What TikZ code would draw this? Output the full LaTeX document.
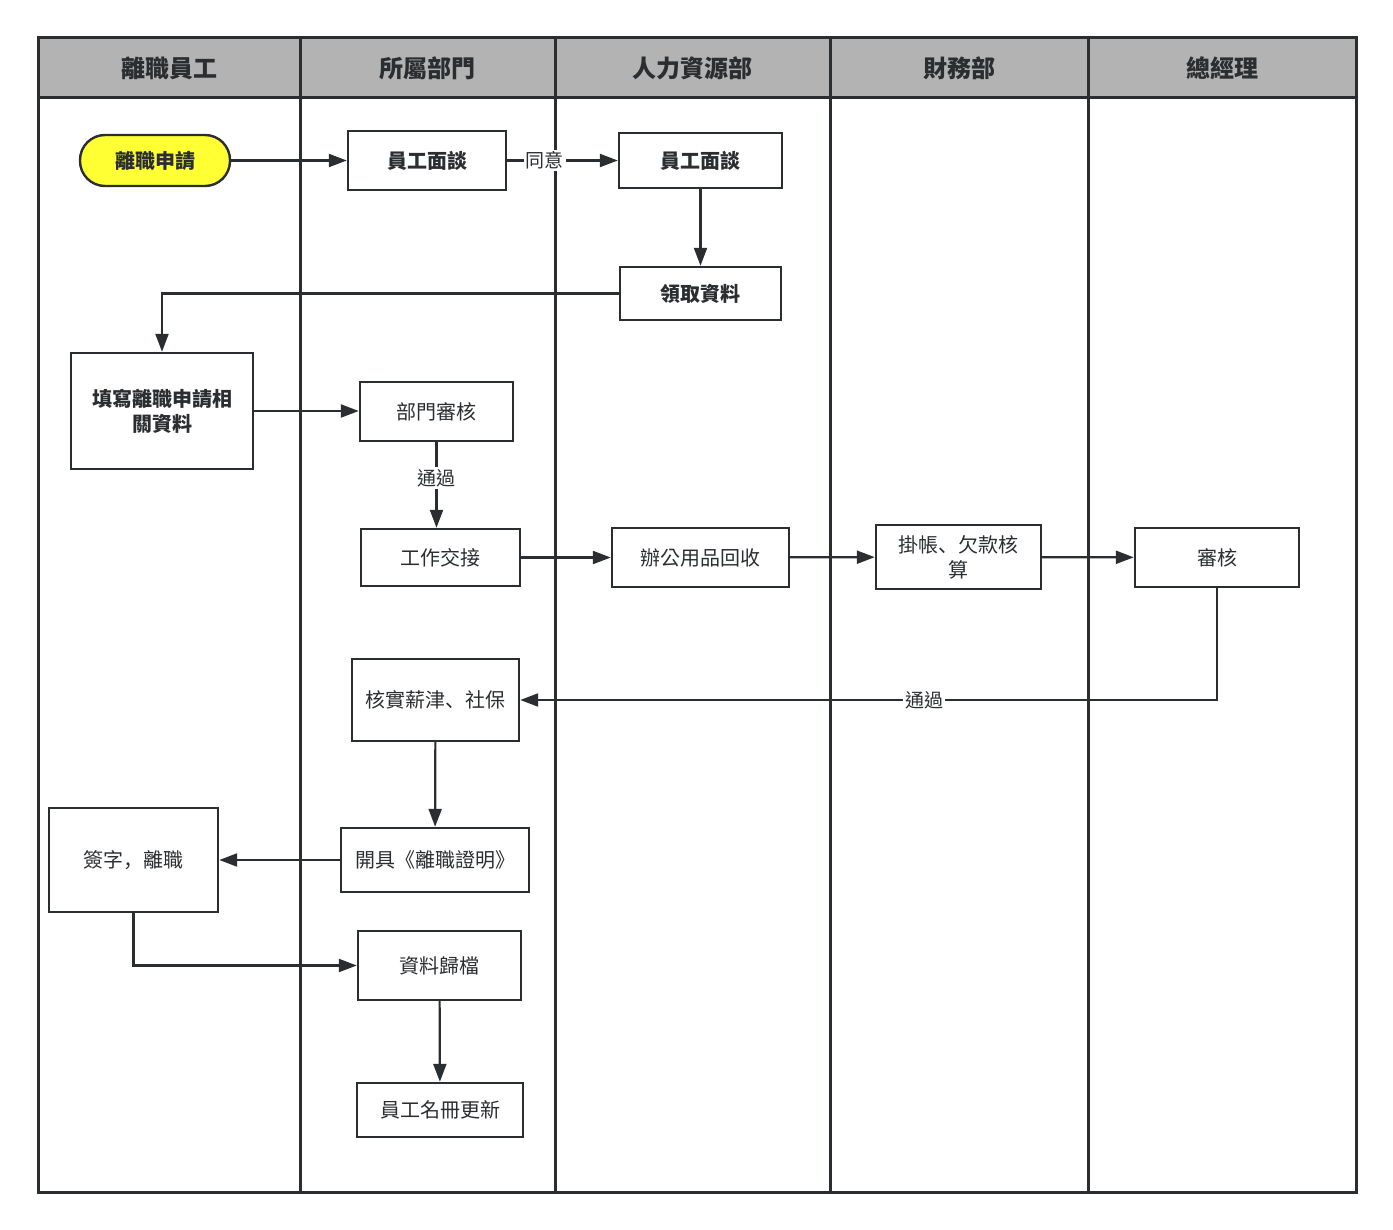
\documentclass[tikz,border=0pt]{standalone}
\usepackage{fontspec}
\setmainfont{Noto Sans CJK TC}
\newfontfamily\scpunct{Noto Sans CJK SC}
\usetikzlibrary{arrows.meta, positioning}
\definecolor{C_LINE} {HTML}{2B2E31}
\definecolor{C_HEAD} {HTML}{B3B3B3}
\definecolor{C_START}{HTML}{FFFF33}
\tikzset{
  %% -- swimlane header text --
  lane/head/.style={font=\fontsize{12}{14}\selectfont\bfseries, text=C_LINE},
  %% -- swimlane frame lines --
  lane/line/.style={draw=C_LINE, line width=1.5pt},
  %% -- process box --
  flow/box/.style={
    draw=C_LINE, line width=1.2pt, fill=white, inner sep=0pt,
    align=center, text=C_LINE, font=\fontsize{10}{12.5}\selectfont
  },
  %% -- process box, bold text --
  flow/bold/.style={flow/box, font=\fontsize{10}{12.5}\selectfont\bfseries},
  %% -- start terminal --
  flow/start/.style={flow/bold, rounded corners=12.5pt, fill=C_START},
  %% -- connector --
  flow/arr/.style={-{Triangle[length=9pt, width=6.5pt]}, draw=C_LINE, line width=1.1pt},
  %% -- connector label --
  flow/lbl/.style={fill=white, inner sep=1pt, text=C_LINE, font=\fontsize{9.5}{11}\selectfont},
}

\begin{document}
\begin{tikzpicture}[x=0.5pt, y=-0.5pt]
\useasboundingbox (0,0) rectangle (1393,1230);

%% ── Lane x-positions ─────────────────────────────────────────
\pgfmathsetmacro{\xL}{38}     % left edge
\pgfmathsetmacro{\xA}{300}    % 離職員工 | 所屬部門
\pgfmathsetmacro{\xB}{555}    % 所屬部門 | 人力資源部
\pgfmathsetmacro{\xC}{830}    % 人力資源部 | 財務部
\pgfmathsetmacro{\xD}{1088}   % 財務部 | 總經理
\pgfmathsetmacro{\xR}{1356}   % right edge

%% ── Header band ──────────────────────────────────────────────
\fill[C_HEAD] (\xL,38) rectangle (\xR,98);
\node[lane/head] (h1) at ({(\xL+\xA)/2},68) {離職員工};
\node[lane/head] (h2) at ({(\xA+\xB)/2},68) {所屬部門};
\node[lane/head] (h3) at ({(\xB+\xC)/2},68) {人力資源部};
\node[lane/head] (h4) at ({(\xC+\xD)/2},68) {財務部};
\node[lane/head] (h5) at ({(\xD+\xR)/2},68) {總經理};

%% ── Lane lines ───────────────────────────────────────────────
\draw[lane/line] (\xL,38) rectangle (\xR,1192);
\draw[lane/line] (\xL,98) -- (\xR,98);
\foreach \x in {\xA,\xB,\xC,\xD}
  \draw[lane/line] (\x,38) -- (\x,1192);

%% ── Steps ────────────────────────────────────────────────────
\node[flow/start, minimum width=75pt, minimum height=25.5pt] (apply) at (155,160.5)
  {離職申請};
\node[flow/bold, minimum width=79pt, minimum height=29.5pt] (talkD) at (427,160.5)
  {員工面談};
\node[flow/bold, minimum width=81.5pt, minimum height=27.5pt] (talkH) at (700.5,160.5)
  {員工面談};
\node[flow/bold, minimum width=80.5pt, minimum height=26.5pt] (fetch) at (700.5,293.5)
  {領取資料};
\node[flow/bold, minimum width=91pt, minimum height=58pt] (fill) at (162,411)
  {填寫離職申請相\\關資料};
\node[flow/box, minimum width=76.5pt, minimum height=29.5pt] (deptok) at (436.5,411.5)
  {部門審核};
\node[flow/box, minimum width=79.5pt, minimum height=28.5pt] (handover) at (440.5,557.5)
  {工作交接};
\node[flow/box, minimum width=88.5pt, minimum height=29.5pt] (office) at (700.5,557.5)
  {辦公用品回收};
\node[flow/box, minimum width=82.5pt, minimum height=32pt] (debt) at (958.5,557)
  {掛帳{\scpunct 、}欠款核\\算};
\node[flow/box, minimum width=82pt, minimum height=29.5pt] (gmok) at (1217,557.5)
  {審核};
\node[flow/box, minimum width=83.5pt, minimum height=41pt] (salary) at (435.5,700)
  {核實薪津{\scpunct 、}社保};
\node[flow/box, minimum width=94pt, minimum height=32pt] (cert) at (435,860)
  {開具《離職證明》};
\node[flow/box, minimum width=84.5pt, minimum height=52pt] (sign) at (133.5,860)
  {簽字{\scpunct ，}離職};
\node[flow/box, minimum width=81.5pt, minimum height=34.5pt] (archive) at (439.5,965.5)
  {資料歸檔};
\node[flow/box, minimum width=83pt, minimum height=27pt] (roster) at (440,1110)
  {員工名冊更新};

%% ── Connectors ───────────────────────────────────────────────
\draw[flow/arr] (apply) -- (talkD);
\draw[flow/arr] (talkD) -- node[flow/lbl, pos=0.34] {同意} (talkH);
\draw[flow/arr] (talkH) -- (fetch);
\draw[flow/arr] (fetch.west) -| (fill.north);
\draw[flow/arr] (fill.east) -- (deptok.west |- fill.east);
\draw[flow/arr] (deptok.south) -- node[flow/lbl, pos=0.42] {通過} (deptok.south |- handover.north);
\draw[flow/arr] (handover) -- (office);
\draw[flow/arr] (office) -- (debt);
\draw[flow/arr] (debt) -- (gmok);
\draw[flow/arr] (gmok.south) |- node[flow/lbl, pos=0.71] {通過} (salary.east);
\draw[flow/arr] (salary) -- (cert);
\draw[flow/arr] (cert) -- (sign);
\draw[flow/arr] (sign.south) |- (archive.west);
\draw[flow/arr] (archive) -- (roster);

\end{tikzpicture}
\end{document}
